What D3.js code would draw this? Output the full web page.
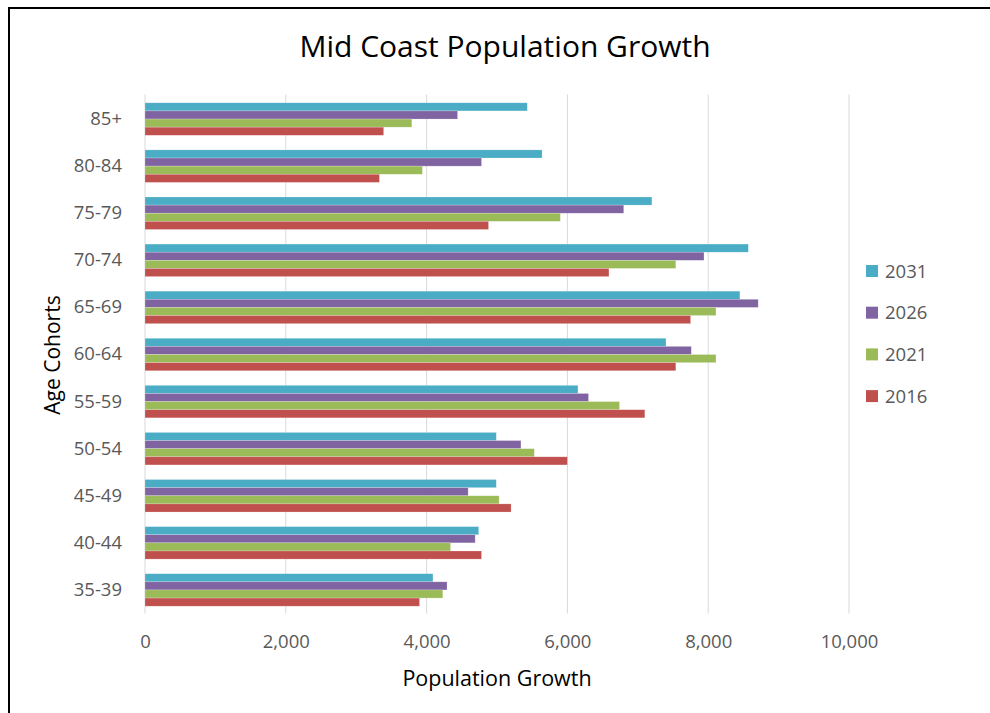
<!DOCTYPE html>
<html>
<head>
<meta charset="utf-8">
<script src="https://cdn.jsdelivr.net/npm/d3@7"></script>
<style>
  html, body { margin: 0; padding: 0; background: #fff; }
  svg { display: block; }
  text { font-family: "Open Sans", "Noto Sans", sans-serif; }
</style>
</head>
<body>
<svg id="chart" width="990" height="713"></svg>
<script>
// Age cohorts, top to bottom
const cohorts = ["85+", "80-84", "75-79", "70-74", "65-69", "60-64", "55-59", "50-54", "45-49", "40-44", "35-39"];
// Series drawn top to bottom within each cohort
const years = ["2031", "2026", "2021", "2016"];
const values2031 = [5430, 5640, 7200, 8570, 8450, 7400, 6150, 4990, 4990, 4740, 4090];
const values2026 = [4440, 4780, 6800, 7940, 8710, 7760, 6300, 5340, 4590, 4690, 4290];
const values2021 = [3790, 3940, 5900, 7540, 8110, 8110, 6740, 5530, 5030, 4340, 4230];
const values2016 = [3390, 3330, 4880, 6590, 7750, 7540, 7100, 6000, 5200, 4780, 3900];
const seriesValues = [values2031, values2026, values2021, values2016];
const colors = ["#4BACC6", "#8064A2", "#9BBB59", "#C0504D"];
const xTicks = [0, 2000, 4000, 6000, 8000, 10000];

const svg = d3.select("#chart");

// Frame around the chart
svg.append("path")
  .attr("d", "M9,713 V8 H990")
  .attr("fill", "none")
  .attr("stroke", "#000")
  .attr("stroke-width", 2);

const plot = { left: 145, right: 849, top: 95.5, bottom: 613.5 };

const x = d3.scaleLinear().domain([0, 10000]).range([plot.left, plot.right]);
const y = d3.scaleBand().domain(cohorts).range([plot.top, plot.bottom]).paddingInner(0.31).paddingOuter(0.155);
const ySub = d3.scaleBand().domain(years).range([0, y.bandwidth()]);

// Vertical gridlines
svg.append("g")
  .selectAll("line")
  .data(xTicks)
  .join("line")
  .attr("x1", d => x(d)).attr("x2", d => x(d))
  .attr("y1", plot.top - 1).attr("y2", plot.bottom)
  .attr("stroke", "#d9d9d9")
  .attr("stroke-width", 1);

// Bars
const groups = svg.append("g")
  .selectAll("g")
  .data(cohorts)
  .join("g")
  .attr("transform", d => `translate(0,${y(d)})`);

groups.selectAll("rect")
  .data((c, i) => years.map((yr, s) => ({ yr, s, v: seriesValues[s][i] })))
  .join("rect")
  .attr("x", x(0))
  .attr("y", d => ySub(d.yr))
  .attr("width", d => x(d.v) - x(0))
  .attr("height", ySub.bandwidth())
  .attr("fill", d => colors[d.s])
  .attr("stroke", "#fff")
  .attr("stroke-opacity", 0.35)
  .attr("stroke-width", 0.6);

// X axis labels
const xAxis = d3.axisBottom(x).tickValues(xTicks).tickFormat(d3.format(",")).tickSize(0).tickPadding(0);
const gx = svg.append("g")
  .attr("transform", `translate(0,648)`)
  .call(xAxis);
gx.select(".domain").remove();
gx.selectAll("text")
  .attr("font-size", 18.5)
  .attr("fill", "#595959")
  .attr("font-family", "'Open Sans', 'Noto Sans', sans-serif")
  .attr("dy", 0);

// Y axis labels
const yAxis = d3.axisLeft(y).tickSize(0).tickPadding(0);
const gy = svg.append("g")
  .attr("transform", `translate(122,0)`)
  .call(yAxis);
gy.select(".domain").remove();
gy.selectAll("text")
  .attr("font-size", 18.5)
  .attr("fill", "#595959")
  .attr("font-family", "'Open Sans', 'Noto Sans', sans-serif");

// Title
svg.append("text")
  .attr("x", 505).attr("y", 57)
  .attr("text-anchor", "middle")
  .attr("font-size", 30)
  .attr("fill", "#000")
  .text("Mid Coast Population Growth");

// Axis titles
svg.append("text")
  .attr("x", 497).attr("y", 686)
  .attr("text-anchor", "middle")
  .attr("font-size", 21.5)
  .attr("fill", "#000")
  .text("Population Growth");

svg.append("text")
  .attr("transform", `translate(60,355) rotate(-90)`)
  .attr("text-anchor", "middle")
  .attr("font-size", 21)
  .attr("fill", "#000")
  .text("Age Cohorts");

// Legend
const legend = svg.append("g")
  .selectAll("g")
  .data(years)
  .join("g")
  .attr("transform", (d, i) => `translate(866,${271 + i * 41.7})`);
legend.append("rect")
  .attr("x", 0).attr("y", -6)
  .attr("width", 12).attr("height", 12)
  .attr("fill", (d, i) => colors[i]);
legend.append("text")
  .attr("x", 19).attr("y", 0)
  .attr("dy", "0.36em")
  .attr("font-size", 18.5)
  .attr("fill", "#595959")
  .text(d => d);
</script>
</body>
</html>
